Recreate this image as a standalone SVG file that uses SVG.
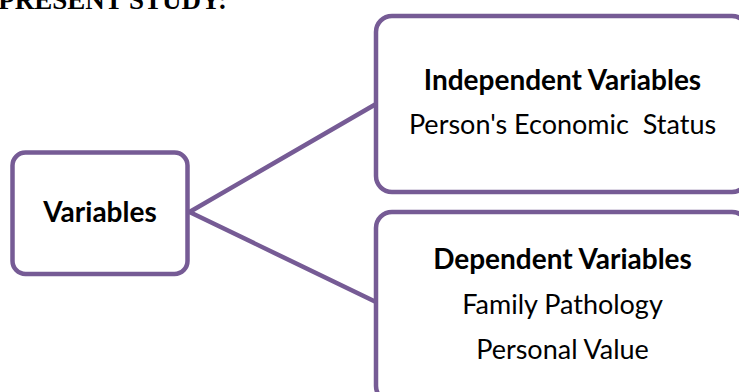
<svg xmlns="http://www.w3.org/2000/svg" width="739" height="392" viewBox="0 0 739 392">
  <style>
    .box { fill: #ffffff; stroke: #765B95; stroke-width: 4.5; }
    .link { fill: none; stroke: #765B95; stroke-width: 4.5; stroke-linecap: round; }
    .head { font-family: Lato, "Open Sans", sans-serif; font-weight: bold; font-size: 28px; fill: #000000; text-anchor: middle; }
    .item { font-family: Lato, "Open Sans", sans-serif; font-size: 27px; fill: #000000; text-anchor: middle; }
    .title { font-family: "Liberation Serif", "Times New Roman", serif; font-weight: bold; font-size: 27px; fill: #000000; }
  </style>
  <rect width="739" height="392" fill="#ffffff"/>

  <!-- heading, partly cut off by the top edge -->
  <text class="title" x="227" y="9" text-anchor="end">PRESENT STUDY:</text>

  <!-- branches from the root to both categories -->
  <g id="connectors">
    <line class="link" x1="189.5" y1="212" x2="376" y2="104"/>
    <line class="link" x1="189.5" y1="212" x2="376" y2="302"/>
  </g>

  <g id="variables">
    <rect class="box" x="12.5" y="152.5" width="175" height="121.5" rx="13"/>
    <text class="head" x="100" y="222">Variables</text>
  </g>

  <g id="independent">
    <rect class="box" x="376" y="16" width="372" height="176" rx="16"/>
    <text class="head" x="562.5" y="89.5">Independent Variables</text>
    <text class="item" x="562.5" y="133.5" xml:space="preserve">Person's Economic  Status</text>
  </g>

  <g id="dependent">
    <rect class="box" x="376" y="212" width="372" height="190" rx="16"/>
    <text class="head" x="562.5" y="268.5">Dependent Variables</text>
    <text class="item" x="562.5" y="313.5">Family Pathology</text>
    <text class="item" x="562.5" y="358.5">Personal Value</text>
  </g>
</svg>
